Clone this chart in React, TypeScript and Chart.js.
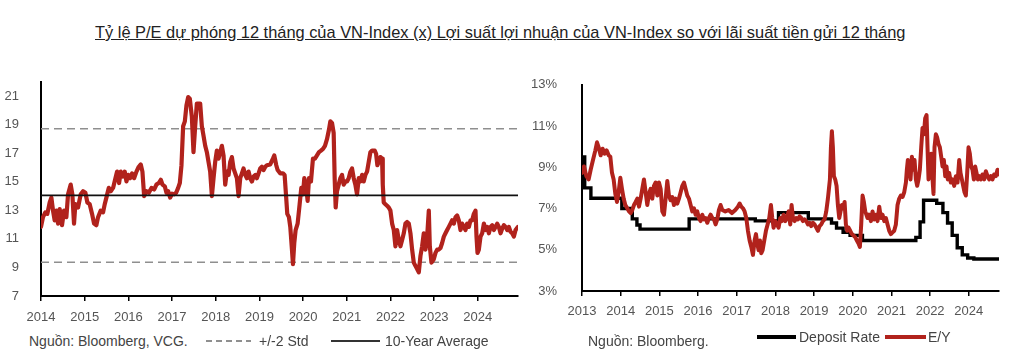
import React, { useEffect, useRef } from "react";
import Chart from "chart.js/auto";

const TITLE = "Tỷ lệ P/E dự phóng 12 tháng của VN-Index (x) Lợi suất lợi nhuận của VN-Index so với lãi suất tiền gửi 12 tháng";

// ---------- Left chart: forward P/E ----------
const L_YEARS = [2014, 2015, 2016, 2017, 2018, 2019, 2020, 2021, 2022, 2023, 2024];
const L_Y_TICKS = [7, 9, 11, 13, 15, 17, 19, 21];
const L_X_MIN = 2014;
const L_X_MAX = 2024.92;
const L_Y_MIN = 7;
const L_Y_MAX = 22;
const PE_AVG = 14.04;
const PE_STD = 2.34;

const PE_POINTS: [number, number][] = [
  [2014.000, 11.84], [2014.046, 12.52], [2014.099, 12.86], [2014.145, 12.75], [2014.199, 13.55], [2014.237, 13.89],
  [2014.275, 12.98], [2014.313, 12.30], [2014.351, 12.98], [2014.390, 12.07], [2014.428, 13.09], [2014.481, 11.96],
  [2014.527, 12.98], [2014.581, 12.52], [2014.619, 14.12], [2014.680, 14.80], [2014.718, 14.12], [2014.756, 12.07],
  [2014.787, 13.43], [2014.848, 13.20], [2014.909, 14.12], [2014.963, 14.34], [2015.016, 14.23], [2015.062, 13.55],
  [2015.115, 13.43], [2015.169, 12.75], [2015.215, 12.07], [2015.268, 11.96], [2015.306, 12.52], [2015.367, 12.98],
  [2015.421, 12.86], [2015.459, 13.43], [2015.497, 13.89], [2015.551, 14.57], [2015.597, 14.34], [2015.650, 14.57],
  [2015.704, 15.25], [2015.742, 15.71], [2015.788, 14.91], [2015.826, 15.71], [2015.879, 15.37], [2015.917, 15.71],
  [2015.956, 15.02], [2015.994, 15.48], [2016.040, 15.25], [2016.086, 15.59], [2016.131, 15.25], [2016.185, 15.71],
  [2016.238, 16.05], [2016.284, 16.21], [2016.322, 15.71], [2016.361, 14.00], [2016.414, 14.34], [2016.468, 14.23],
  [2016.529, 14.57], [2016.590, 14.46], [2016.643, 14.80], [2016.697, 14.91], [2016.743, 15.14], [2016.781, 14.80],
  [2016.834, 14.68], [2016.872, 14.23], [2016.911, 14.34], [2016.957, 13.89], [2017.002, 14.16], [2017.048, 14.12],
  [2017.094, 14.23], [2017.140, 14.57], [2017.178, 14.91], [2017.216, 16.16], [2017.254, 18.89], [2017.293, 19.23],
  [2017.331, 20.37], [2017.369, 20.93], [2017.407, 20.82], [2017.453, 19.57], [2017.491, 17.07], [2017.530, 18.89],
  [2017.568, 20.48], [2017.644, 20.48], [2017.682, 18.89], [2017.721, 18.21], [2017.759, 17.52], [2017.797, 17.07],
  [2017.835, 16.39], [2017.873, 15.71], [2017.912, 14.00], [2017.950, 15.25], [2017.988, 16.39], [2018.026, 17.18],
  [2018.064, 16.62], [2018.103, 17.07], [2018.141, 17.52], [2018.179, 16.84], [2018.217, 14.80], [2018.255, 15.71],
  [2018.294, 15.48], [2018.332, 16.39], [2018.370, 16.73], [2018.408, 15.93], [2018.446, 15.59], [2018.485, 15.25],
  [2018.523, 14.00], [2018.561, 15.25], [2018.599, 15.59], [2018.637, 15.93], [2018.676, 15.48], [2018.714, 15.25],
  [2018.752, 15.71], [2018.790, 15.25], [2018.828, 15.02], [2018.867, 15.37], [2018.905, 15.48], [2018.943, 15.25],
  [2018.981, 15.59], [2019.019, 15.93], [2019.057, 16.05], [2019.096, 15.82], [2019.134, 16.05], [2019.172, 16.16],
  [2019.248, 16.21], [2019.310, 16.62], [2019.340, 16.84], [2019.386, 16.16], [2019.417, 15.82], [2019.478, 15.59],
  [2019.539, 15.59], [2019.577, 15.48], [2019.608, 14.12], [2019.638, 12.75], [2019.676, 12.52], [2019.707, 11.84],
  [2019.745, 10.25], [2019.768, 9.23], [2019.798, 10.71], [2019.829, 11.62], [2019.875, 12.07], [2019.921, 13.43],
  [2019.959, 14.57], [2019.997, 14.12], [2020.028, 15.25], [2020.073, 14.57], [2020.104, 13.66], [2020.135, 15.25],
  [2020.180, 15.02], [2020.226, 16.62], [2020.272, 16.62], [2020.318, 16.84], [2020.364, 17.07], [2020.410, 17.18],
  [2020.456, 17.30], [2020.501, 17.52], [2020.547, 17.98], [2020.593, 18.66], [2020.624, 19.23], [2020.662, 19.12],
  [2020.700, 18.43], [2020.723, 15.25], [2020.746, 13.20], [2020.776, 14.34], [2020.815, 14.80], [2020.853, 15.25],
  [2020.891, 15.48], [2020.929, 14.80], [2020.975, 15.02], [2021.006, 15.02], [2021.044, 15.25], [2021.083, 15.71],
  [2021.121, 15.93], [2021.159, 15.25], [2021.197, 14.80], [2021.235, 14.12], [2021.274, 15.25], [2021.312, 15.02],
  [2021.350, 15.48], [2021.388, 15.02], [2021.426, 15.48], [2021.465, 15.71], [2021.503, 16.39], [2021.541, 17.07],
  [2021.579, 17.18], [2021.640, 17.18], [2021.671, 16.96], [2021.701, 16.16], [2021.732, 16.39], [2021.770, 16.73],
  [2021.808, 16.62], [2021.824, 14.80], [2021.846, 13.55], [2021.885, 13.43], [2021.923, 13.32], [2021.961, 13.20],
  [2021.999, 12.98], [2022.038, 12.07], [2022.076, 11.62], [2022.114, 10.48], [2022.152, 11.62], [2022.190, 10.93],
  [2022.229, 10.48], [2022.267, 10.93], [2022.305, 11.39], [2022.343, 12.07], [2022.381, 12.18], [2022.420, 12.07],
  [2022.458, 11.39], [2022.496, 10.25], [2022.534, 9.34], [2022.572, 9.11], [2022.611, 8.89], [2022.649, 8.66],
  [2022.687, 9.80], [2022.725, 10.48], [2022.763, 11.39], [2022.802, 10.25], [2022.840, 11.16], [2022.878, 12.98],
  [2022.901, 10.48], [2022.939, 9.34], [2022.992, 9.57], [2023.031, 10.02], [2023.069, 10.25], [2023.107, 10.25],
  [2023.145, 10.36], [2023.183, 10.71], [2023.222, 11.16], [2023.260, 11.39], [2023.298, 11.62], [2023.336, 11.84],
  [2023.374, 12.07], [2023.413, 12.30], [2023.451, 12.07], [2023.489, 12.52], [2023.527, 12.64], [2023.565, 12.30],
  [2023.604, 11.62], [2023.642, 12.07], [2023.680, 11.84], [2023.718, 11.62], [2023.756, 12.07], [2023.795, 11.84],
  [2023.833, 12.30], [2023.871, 12.30], [2023.909, 12.75], [2023.947, 12.98], [2023.970, 11.16], [2023.993, 10.02],
  [2024.024, 10.25], [2024.062, 11.16], [2024.100, 11.39], [2024.139, 12.07], [2024.177, 11.62], [2024.215, 11.84],
  [2024.253, 11.39], [2024.291, 11.84], [2024.330, 11.96], [2024.368, 11.62], [2024.406, 11.84], [2024.444, 12.07],
  [2024.482, 11.84], [2024.520, 11.39], [2024.559, 11.73], [2024.597, 11.96], [2024.635, 11.84], [2024.673, 11.62],
  [2024.711, 11.84], [2024.749, 11.50], [2024.787, 11.39], [2024.826, 11.16], [2024.864, 11.62], [2024.920, 11.84],
];

// ---------- Right chart: E/Y vs deposit rate ----------
const R_YEARS = [2013, 2014, 2015, 2016, 2017, 2018, 2019, 2020, 2021, 2022, 2023];
const R_X_LABELS = ["2013", "2014", "2015", "2016", "2017", "2018", "2019", "2020", "2021", "2022", "2024"];
const R_Y_TICKS = [3, 5, 7, 9, 11, 13];
const R_X_MIN = 2013;
const R_X_MAX = 2023.78;
const R_Y_MIN = 3;
const R_Y_MAX = 13;

const DEPOSIT_STEPS: [number, number][] = [
  [2013.00, 9.5], [2013.07, 8.0], [2013.23, 7.5], [2014.03, 7.0], [2014.30, 6.5], [2014.42, 6.2], [2014.50, 6.0],
  [2015.77, 6.5], [2017.48, 6.4], [2018.08, 6.8], [2018.85, 6.5], [2019.45, 6.3], [2019.58, 6.05], [2019.75, 5.85],
  [2019.93, 5.7], [2020.25, 5.45], [2021.63, 5.6], [2021.74, 6.35], [2021.83, 7.4], [2022.17, 7.25], [2022.33, 6.8],
  [2022.45, 6.3], [2022.57, 5.7], [2022.70, 5.1], [2022.83, 4.75], [2022.97, 4.6], [2023.13, 4.55], [2023.78, 4.55],
];

const EY_POINTS: [number, number][] = [
  [2013.000, 8.73], [2013.052, 9.04], [2013.112, 8.57], [2013.172, 8.41], [2013.224, 8.88], [2013.284, 9.35],
  [2013.345, 9.82], [2013.388, 10.21], [2013.431, 9.97], [2013.482, 9.58], [2013.534, 9.90], [2013.586, 9.66],
  [2013.637, 9.82], [2013.689, 9.58], [2013.732, 9.51], [2013.775, 8.73], [2013.818, 8.41], [2013.861, 7.71],
  [2013.904, 7.32], [2013.947, 7.79], [2013.991, 8.49], [2014.034, 7.95], [2014.077, 7.48], [2014.120, 7.17],
  [2014.171, 7.01], [2014.214, 6.86], [2014.258, 6.78], [2014.301, 6.93], [2014.344, 7.17], [2014.387, 7.32],
  [2014.430, 7.48], [2014.473, 7.09], [2014.516, 7.48], [2014.559, 7.95], [2014.602, 8.41], [2014.645, 7.79],
  [2014.688, 7.17], [2014.731, 7.71], [2014.774, 7.95], [2014.817, 7.48], [2014.860, 8.10], [2014.904, 8.26],
  [2014.947, 7.63], [2014.990, 8.26], [2015.033, 7.95], [2015.076, 6.86], [2015.119, 6.70], [2015.162, 7.48],
  [2015.205, 8.34], [2015.248, 7.63], [2015.291, 7.40], [2015.334, 7.56], [2015.377, 7.17], [2015.420, 7.48],
  [2015.463, 7.24], [2015.506, 7.48], [2015.550, 7.79], [2015.593, 8.10], [2015.636, 8.26], [2015.679, 7.95],
  [2015.722, 7.63], [2015.765, 7.48], [2015.808, 7.17], [2015.851, 6.86], [2015.894, 7.01], [2015.937, 6.70],
  [2015.980, 6.86], [2016.023, 6.54], [2016.066, 6.39], [2016.109, 6.70], [2016.152, 6.47], [2016.196, 6.54],
  [2016.239, 6.31], [2016.282, 6.54], [2016.325, 6.70], [2016.368, 6.54], [2016.411, 6.47], [2016.454, 6.23],
  [2016.497, 6.47], [2016.540, 6.93], [2016.583, 7.17], [2016.626, 6.93], [2016.704, 6.86], [2016.790, 6.93],
  [2016.876, 6.78], [2016.963, 6.93], [2017.031, 7.09], [2017.075, 7.24], [2017.118, 7.09], [2017.161, 7.01],
  [2017.204, 6.86], [2017.247, 6.54], [2017.290, 5.92], [2017.333, 5.45], [2017.376, 5.14], [2017.419, 4.75],
  [2017.462, 5.45], [2017.497, 5.76], [2017.531, 5.30], [2017.565, 4.98], [2017.600, 5.45], [2017.634, 4.83],
  [2017.669, 4.98], [2017.712, 5.45], [2017.755, 5.92], [2017.798, 6.23], [2017.841, 6.54], [2017.884, 7.17],
  [2017.919, 6.54], [2017.953, 6.07], [2017.996, 6.39], [2018.039, 6.23], [2018.082, 6.07], [2018.125, 6.54],
  [2018.168, 6.39], [2018.211, 6.70], [2018.255, 6.39], [2018.298, 6.54], [2018.341, 6.86], [2018.384, 6.23],
  [2018.418, 7.17], [2018.453, 6.54], [2018.496, 6.39], [2018.539, 6.54], [2018.582, 6.47], [2018.625, 6.62],
  [2018.668, 6.54], [2018.711, 6.39], [2018.754, 6.47], [2018.797, 6.39], [2018.840, 6.23], [2018.883, 6.31],
  [2018.926, 6.15], [2018.969, 6.31], [2019.012, 6.23], [2019.056, 6.07], [2019.099, 5.92], [2019.142, 6.15],
  [2019.185, 6.23], [2019.228, 6.39], [2019.271, 6.47], [2019.314, 6.86], [2019.357, 7.48], [2019.383, 7.95],
  [2019.409, 8.41], [2019.435, 9.97], [2019.460, 10.75], [2019.486, 9.97], [2019.512, 8.57], [2019.546, 8.41],
  [2019.581, 8.10], [2019.615, 7.17], [2019.650, 6.54], [2019.684, 6.86], [2019.719, 7.17], [2019.753, 7.01],
  [2019.788, 7.32], [2019.822, 6.23], [2019.857, 5.92], [2019.891, 6.07], [2019.934, 5.92], [2019.977, 5.76],
  [2020.020, 5.69], [2020.063, 5.61], [2020.106, 5.45], [2020.149, 5.30], [2020.184, 5.14], [2020.218, 6.23],
  [2020.253, 7.63], [2020.287, 7.32], [2020.322, 6.86], [2020.382, 6.54], [2020.425, 6.70], [2020.468, 6.39],
  [2020.511, 6.86], [2020.554, 6.47], [2020.597, 6.70], [2020.640, 6.39], [2020.684, 7.09], [2020.727, 6.54],
  [2020.770, 6.70], [2020.813, 6.39], [2020.856, 6.54], [2020.899, 6.23], [2020.942, 5.92], [2020.985, 5.76],
  [2021.028, 5.84], [2021.071, 5.92], [2021.114, 6.23], [2021.157, 7.17], [2021.200, 7.48], [2021.243, 7.63],
  [2021.286, 7.56], [2021.330, 7.79], [2021.373, 8.26], [2021.398, 8.88], [2021.424, 9.35], [2021.459, 8.88],
  [2021.493, 8.41], [2021.528, 9.51], [2021.562, 8.88], [2021.597, 9.35], [2021.631, 8.41], [2021.665, 8.10],
  [2021.700, 8.41], [2021.734, 8.88], [2021.769, 9.97], [2021.803, 10.91], [2021.838, 10.60], [2021.872, 11.38],
  [2021.907, 11.53], [2021.932, 9.97], [2021.958, 8.41], [2021.993, 9.35], [2022.027, 9.66], [2022.062, 8.41],
  [2022.087, 7.71], [2022.113, 9.97], [2022.148, 10.60], [2022.182, 10.44], [2022.217, 10.13], [2022.251, 9.97],
  [2022.286, 9.51], [2022.320, 9.04], [2022.355, 9.35], [2022.389, 8.57], [2022.423, 9.04], [2022.458, 8.41],
  [2022.492, 8.73], [2022.535, 8.26], [2022.578, 8.41], [2022.621, 8.10], [2022.665, 8.57], [2022.708, 8.26],
  [2022.751, 9.35], [2022.785, 8.73], [2022.820, 8.41], [2022.854, 8.10], [2022.889, 7.79], [2022.923, 7.63],
  [2022.958, 8.73], [2022.992, 9.97], [2023.026, 9.66], [2023.061, 9.04], [2023.095, 8.88], [2023.130, 8.41],
  [2023.164, 9.04], [2023.199, 8.73], [2023.233, 8.41], [2023.268, 8.57], [2023.311, 8.41], [2023.354, 8.65],
  [2023.397, 8.41], [2023.440, 8.81], [2023.483, 8.57], [2023.526, 8.41], [2023.569, 8.57], [2023.612, 8.41],
  [2023.655, 8.65], [2023.698, 8.57], [2023.741, 8.88], [2023.780, 8.65],
];

const RED = "#B1221C";
const TICK_COLOR = "#555555";
const FONT = "'Liberation Sans', Arial, sans-serif";

const toXY = (pts: [number, number][]) => pts.map(([x, y]) => ({ x, y }));

function axisX(min: number, max: number, years: number[], fmt: (v: number) => string, height: number, padding: number) {
  return {
    type: "linear" as const,
    min,
    max,
    afterBuildTicks: (s: any) => { s.ticks = years.map((v) => ({ value: v })); },
    afterFit: (s: any) => { s.height = height; },
    grid: { display: true, drawOnChartArea: false, drawTicks: true, tickLength: 5, color: "#000", lineWidth: 1.5 },
    border: { display: true, color: "#000", width: 2 },
    ticks: { padding, color: TICK_COLOR, font: { family: FONT, size: 13 }, maxRotation: 0, autoSkip: false, callback: (v: any) => fmt(Number(v)) },
  };
}

function axisY(min: number, max: number, ticks: number[], fmt: (v: number) => string, width: number, padding: number) {
  return {
    min,
    max,
    afterBuildTicks: (s: any) => { s.ticks = ticks.map((v) => ({ value: v })); },
    afterFit: (s: any) => { s.width = width; },
    grid: { display: false },
    border: { display: true, color: "#000", width: 2 },
    ticks: { padding, color: TICK_COLOR, font: { family: FONT, size: 13 }, callback: (v: any) => fmt(Number(v)) },
  };
}

function LeftChart() {
  const ref = useRef<HTMLCanvasElement>(null);
  useEffect(() => {
    if (!ref.current) return;
    const chart = new Chart(ref.current, {
      type: "line",
      data: {
        datasets: [
          { label: "10-Year Average", data: [{ x: L_X_MIN, y: PE_AVG }, { x: L_X_MAX, y: PE_AVG }], borderColor: "#111", borderWidth: 1.8, pointRadius: 0 },
          { label: "P/E", data: toXY(PE_POINTS), borderColor: RED, borderWidth: 4.2, pointRadius: 0, borderJoinStyle: "round", borderCapStyle: "round" },
          { label: "+2 Std", data: [{ x: L_X_MIN, y: PE_AVG + 2 * PE_STD }, { x: L_X_MAX, y: PE_AVG + 2 * PE_STD }], borderColor: "#8f8f8f", borderWidth: 1.5, borderDash: [8, 5], pointRadius: 0 },
          { label: "-2 Std", data: [{ x: L_X_MIN, y: PE_AVG - 2 * PE_STD }, { x: L_X_MAX, y: PE_AVG - 2 * PE_STD }], borderColor: "#8f8f8f", borderWidth: 1.5, borderDash: [8, 5], pointRadius: 0 },
        ],
      },
      options: {
        animation: false,
        responsive: false,
        layout: { padding: { top: 17, right: 2, left: 0, bottom: 0 } },
        plugins: { legend: { display: false }, tooltip: { enabled: false } },
        elements: { line: { tension: 0 }, point: { radius: 0 } },
        scales: {
          x: axisX(L_X_MIN, L_X_MAX, L_YEARS, (v) => String(v), 34, 9),
          y: axisY(L_Y_MIN, L_Y_MAX, L_Y_TICKS, (v) => String(v), 41, 14),
        },
      } as any,
    });
    return () => chart.destroy();
  }, []);
  return <canvas ref={ref} width={520} height={270} style={{ position: "absolute", left: 0, top: 60, width: 520, height: 270 }} />;
}

function RightChart() {
  const ref = useRef<HTMLCanvasElement>(null);
  useEffect(() => {
    if (!ref.current) return;
    const chart = new Chart(ref.current, {
      type: "line",
      data: {
        datasets: [
          { label: "E/Y", data: toXY(EY_POINTS), borderColor: RED, borderWidth: 4, pointRadius: 0, borderJoinStyle: "round", borderCapStyle: "round" },
          { label: "Deposit Rate", data: toXY(DEPOSIT_STEPS), borderColor: "#000", borderWidth: 3.4, pointRadius: 0, stepped: "before" },
        ],
      },
      options: {
        animation: false,
        responsive: false,
        layout: { padding: { top: 17, right: 10, left: 0, bottom: 0 } },
        plugins: { legend: { display: false }, tooltip: { enabled: false } },
        elements: { line: { tension: 0 }, point: { radius: 0 } },
        scales: {
          x: axisX(R_X_MIN, R_X_MAX, R_YEARS, (v) => R_X_LABELS[Math.round(v - R_X_MIN)] ?? "", 39, 8),
          y: axisY(R_Y_MIN, R_Y_MAX, R_Y_TICKS, (v) => `${v}%`, 62, 17),
        },
      } as any,
    });
    return () => chart.destroy();
  }, []);
  return <canvas ref={ref} width={489} height={270} style={{ position: "absolute", left: 520, top: 60, width: 489, height: 270 }} />;
}

const textStyle = (left: number, centerY: number, size = 14): React.CSSProperties => ({
  position: "absolute",
  left,
  top: centerY - 8,
  height: 16,
  lineHeight: "16px",
  fontFamily: FONT,
  fontSize: size,
  color: "#444",
  whiteSpace: "nowrap",
});

const lineSample = (left: number, width: number, centerY: number, thickness: number, background: string): React.CSSProperties => ({
  position: "absolute",
  left,
  width,
  top: centerY - thickness / 2,
  height: thickness,
  background,
});

export default function App() {
  return (
    <div style={{ position: "fixed", left: 0, top: 0, width: 1009, height: 351, background: "#fff", overflow: "hidden" }}>
      <div style={{ position: "absolute", left: 95, top: 22, lineHeight: "20px", fontFamily: FONT, fontSize: 16.4, color: "#222", textDecoration: "underline", whiteSpace: "nowrap" }}>
        {TITLE}
      </div>
      <LeftChart />
      <RightChart />
      {/* Left legend */}
      <span style={textStyle(29, 341)}>Nguồn: Bloomberg, VCG.</span>
      <div style={lineSample(206, 45, 341, 2, "repeating-linear-gradient(to right, #8f8f8f 0 6px, transparent 6px 10px)")} />
      <span style={textStyle(259, 341)}>+/-2 Std</span>
      <div style={lineSample(331, 49, 341, 2.5, "#333")} />
      <span style={textStyle(385, 341)}>10-Year Average</span>
      {/* Right legend */}
      <span style={textStyle(588, 341)}>Nguồn: Bloomberg.</span>
      <div style={lineSample(757, 39, 337, 4, "#000")} />
      <span style={textStyle(799, 337)}>Deposit Rate</span>
      <div style={lineSample(885, 41, 337, 4, RED)} />
      <span style={textStyle(928, 337)}>E/Y</span>
    </div>
  );
}
